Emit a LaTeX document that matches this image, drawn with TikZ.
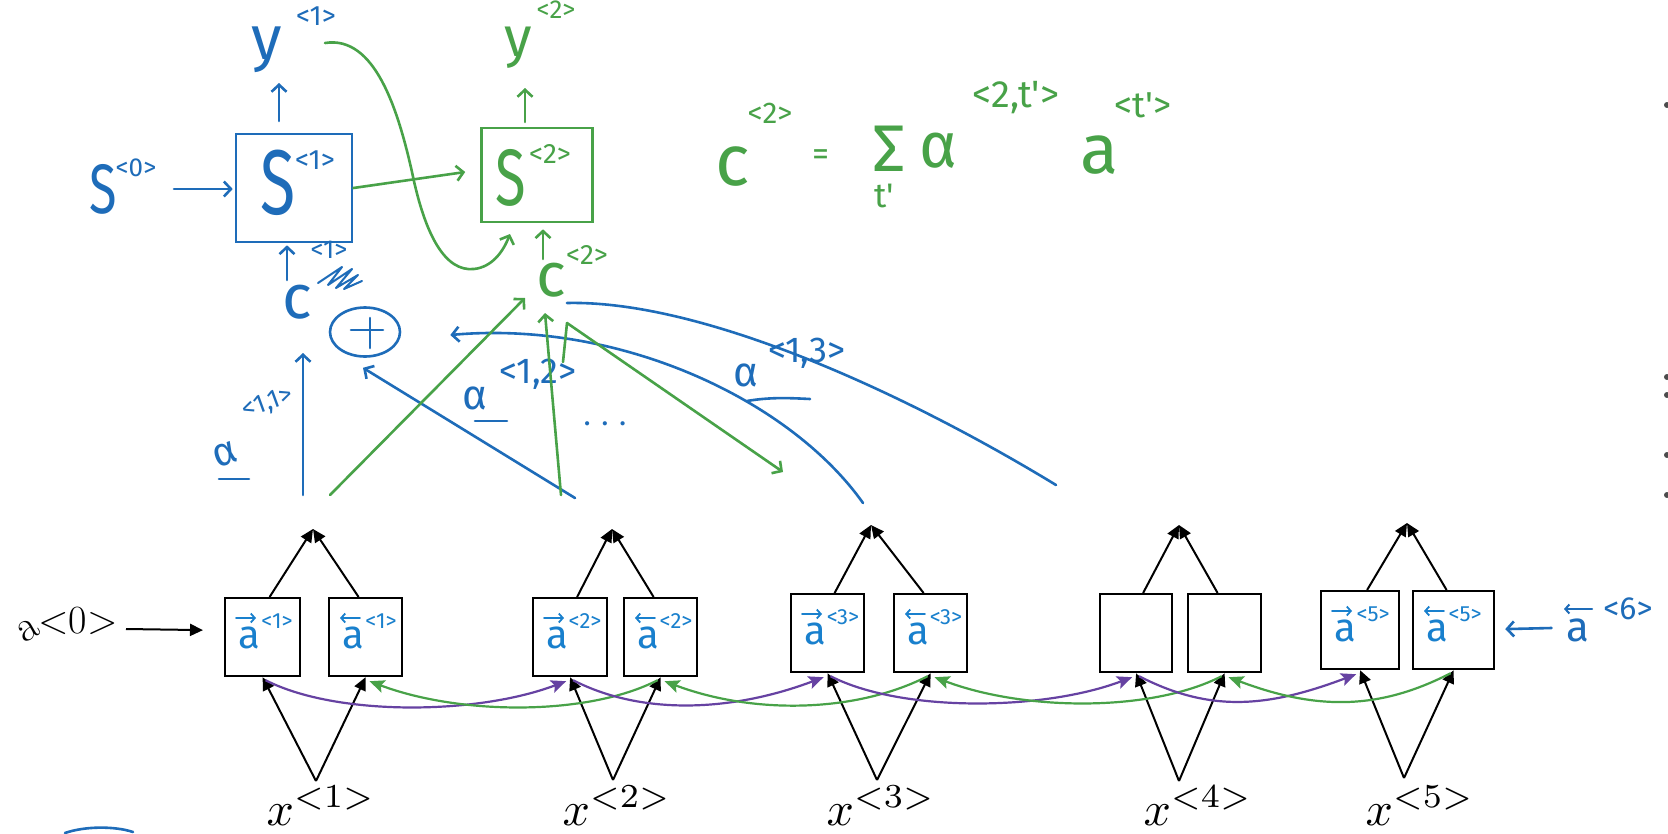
\documentclass[tikz,border=0pt]{standalone}
\usepackage{fontspec}
\newfontfamily\hand{Fira Sans}
\usetikzlibrary{arrows.meta,shapes.geometric,calc}
\definecolor{inkblue}{RGB}{30,108,185}
\definecolor{boxblue}{RGB}{25,128,205}
\definecolor{inkgreen}{RGB}{72,162,72}
\definecolor{inkpurple}{RGB}{102,66,162}
\newcommand\hf[1]{\hand\fontsize{#1}{#1}\selectfont}
\newcommand\lmf[1]{\fontsize{#1}{#1}\selectfont}
\begin{document}
\begin{tikzpicture}[x=1pt,y=-1pt,
  rnnbox/.style={draw, line width=2.2pt, minimum height=78pt, inner sep=0pt, anchor=north west},
  blk/.style={line width=2pt, -{Triangle[length=13pt,width=12pt]}},
  ink/.style={line width=2.6pt, line cap=round, line join=round},
  hwtip/.style={-{Straight Barb[length=7pt,width=15pt]}},
  blueink/.style={ink, draw=inkblue},
  greenink/.style={ink, draw=inkgreen},
  boxink/.style={line width=1.8pt, line cap=round, draw=boxblue},
  lab/.style={inner sep=0pt, outer sep=0pt},
  blab/.style={lab, text=inkblue},
  glab/.style={lab, text=inkgreen},
  ctxt/.style={lab, text=boxblue},
  purparc/.style={line width=2.2pt, draw=inkpurple, -{Stealth[length=15pt,width=13pt,inset=3pt]}},
  greenarc/.style={line width=2.2pt, draw=inkgreen, -{Stealth[length=15pt,width=13pt,inset=3pt]}},
]
\useasboundingbox[fill=white] (0,0) rectangle (1668,833);

% ---------------- bottom RNN row ----------------
\foreach \n/\x/\y/\w in {f1/224/597/75, b1/328/597/73, f2/532/597/74, b2/623/597/73,
  f3/790/593/73, b3/893/593/73, f4/1099/593/72, b4/1187/593/73, f5/1320/590/78, b5/1412/590/81}
  \node[rnnbox, minimum width=\w pt] (\n) at (\x,\y) {};

\foreach \i/\tx/\ty/\vx/\vy in {1/313/529/316/781, 2/612/529/613/780, 3/871/525/877/780,
  4/1179/525/1179/781, 5/1407/523/1404/778}{
  \coordinate (t\i) at (\tx,\ty);
  \coordinate (v\i) at (\vx,\vy);
  \draw[blk] ($(f\i.north)+(7,0)$) -- (t\i);
  \draw[blk] ($(b\i.north)+(-7,0)$) -- (t\i);
  \draw[blk] (v\i) -- (f\i.south);
  \draw[blk] (v\i) -- (b\i.south);
}

\foreach \i/\lx in {1/321, 2/617, 3/881, 4/1198, 5/1420}
  \node[lab, scale=4.8, anchor=base] (x\i) at (\lx,825) {$x^{<\i>}$};

% box contents
\foreach \n/\d/\s in {f1/1/1, b1/-1/1, f2/1/2, b2/-1/2, f3/1/3, b3/-1/3, f5/1/5, b5/-1/5}{
  \draw[boxink, -{Straight Barb[length=4pt,width=9pt]}]
    ($(\n.north west)+({22-10*\d},21)$) -- ($(\n.north west)+({22+10*\d},21)$);
  \node[ctxt, font=\hf{40}] (\n-a) at ($(\n.north west)+(25,41)$) {a};
  \node[ctxt, font=\hf{22}] (\n-s) at ($(\n.north west)+(53,24)$) {<\s>};
}

% recurrent arcs
\foreach \i/\j in {1/2, 2/3, 3/4, 4/5}{
  \draw[purparc] ($(f\i.south)+(3,3)$) .. controls +(70,36) and +(-90,34) .. ($(f\j.south)+(-4,4)$);
  \draw[greenarc] ($(b\j.south)+(-3,3)$) .. controls +(-70,36) and +(90,34) .. ($(b\i.south)+(4,4)$);
}

% a<0> on the left
\node[lab, font=\lmf{44}, rotate=30] (a0b) at (28,630) {a};
\node[lab, font=\lmf{40}] (a0s) at (78,621) {<0>};
\draw[blk] (126,629) -- ($(f1.west)+(-21,-7)$);

% a<6> on the right
\node[blab, font=\hf{42}] (a6a) at (1578,630) {a};
\draw[ink, draw=inkblue, line width=2pt, -{Straight Barb[length=4pt,width=9pt]}] (1592,609) -- (1564,609);
\node[blab, font=\hf{32}] (a6s) at (1628,609) {<6>};
\draw[blueink, hwtip] ($(a6a.west)+(-15,-2)$) -- ($(b5.east)+(10,-1)$);

% ---------------- decoder (top) ----------------
\node[draw=inkblue, line width=2.6pt, minimum width=116pt, minimum height=108pt, inner sep=0] (s1) at (294,188) {};
\node[blab, font=\hf{92}, xscale=0.7] (s1t) at (278,183) {S};
\node[blab, font=\hf{28}] (s1s) at (315,160) {<1>};

\node[blab, font=\hf{70}, xscale=0.72] (s0t) at (103,189) {S};
\node[blab, font=\hf{26}] (s0s) at (136,168) {<0>};
\draw[blueink, hwtip] (174,189) -- ($(s1.west)+(-2,1)$);

\coordinate (s1up) at (279,121);
\node[blab, font=\hf{62}] (y1t) at (267,50) {y};
\node[blab, font=\hf{28}] (y1s) at (316,16) {<1>};
\draw[blueink, hwtip] (s1up) -- (279,83);

\node[draw=inkgreen, line width=2.6pt, minimum width=111pt, minimum height=94pt, inner sep=0] (s2) at (537,175) {};
\node[glab, font=\hf{80}, xscale=0.7] (s2t) at (511,178) {S};
\node[glab, font=\hf{28}] (s2s) at (550,154) {<2>};
\draw[greenink, hwtip] (s1.east) -- ($(s2.west)+(-15,-3)$);

\coordinate (s2up) at (525,122);
\node[glab, font=\hf{56}] (y2t) at (518,48) {y};
\node[glab, font=\hf{26}] (y2s) at (556,10) {<2>};
\draw[greenink, hwtip] (s2up) -- (525,88);

% y<1> feeds s<2>
\coordinate (y1out) at (325,43);
\coordinate (s2in) at (510,234);
\draw[greenink, hwtip] (y1out) .. controls (375,35) and (398,110) .. (412,172)
  .. controls (425,235) and (445,272) .. (474,269) .. controls (492,267) and (503,252) .. (s2in);

% context c<1>
\node[blab, font=\hf{62}] (c1) at (297,302) {c};
\node[blab, font=\hf{26}] (c1s) at (329,250) {<1>};
\draw[blueink, line width=2pt] (318,283) -- (342,267) -- (328,285) -- (352,269) -- (336,288) -- (358,275) -- (344,289) -- (362,281);
\draw[blueink, hwtip] (287,280) -- ($(s1.south)+(-7,2)$);

\node[draw=inkblue, line width=2.6pt, ellipse, minimum width=70pt, minimum height=49pt, inner sep=0] (plus) at (365,332) {};
\draw[blueink] ($(plus.center)+(5,-14)$) -- ($(plus.center)+(5,16)$);
\draw[blueink] ($(plus.center)+(-14,-2)$) -- ($(plus.center)+(18,-2)$);

% context c<2>
\node[glab, font=\hf{62}] (c2) at (551,280) {c};
\node[glab, font=\hf{28}] (c2s) at (587,255) {<2>};
\draw[greenink, hwtip] (543,259) -- ($(s2.south)+(6,6)$);

% attention weights (blue)
\coordinate (p1top) at (303,495);
\draw[blueink, hwtip] (p1top) -- (303,353);
\node[blab, font=\hf{40}, rotate=20] (al11) at (225,455) {α};
\node[blab, font=\hf{26}, rotate=20] (al11s) at (268,404) {<1,1>};
\draw[blueink] (219,479) -- (249,479);

\coordinate (p2top) at (575,498);
\draw[blueink, hwtip] (p2top) -- ($(plus.south)+(-2,10)$);
\node[blab, font=\hf{42}] (al12) at (475,398) {α};
\node[blab, font=\hf{36}] (al12s) at (538,374) {<1,2>};
\draw[blueink] (475,421) -- (507,421);
\node[blab, font=\hf{30}] (dots) at (605,424) {. . .};

\coordinate (p3top) at (863,503);
\draw[blueink, hwtip] (p3top) .. controls (790,400) and (620,320) .. ($(plus.east)+(49,3)$);

\coordinate (p4top) at (1056,485);
\draw[blueink] (567,303) .. controls (700,300) and (900,390) .. (p4top);
\node[blab, font=\hf{42}] (al13) at (746,375) {α};
\node[blab, font=\hf{36}] (al13s) at (807,353) {<1,3>};
\draw[blueink] (747,401) .. controls (770,397) and (790,398) .. (810,399);

% attention weights (green)
\coordinate (g1) at (330,495);
\draw[greenink, hwtip] (g1) -- (525,298);
\coordinate (g2) at (561,495);
\draw[greenink, hwtip] (g2) -- (545,313);
\coordinate (g3) at (783,472);
\coordinate (c2fork) at (567,323);
\draw[greenink, hwtip] (c2fork) -- (g3);
\draw[greenink] (c2fork) -- (563,362);

% ---------------- formula ----------------
\node[glab, font=\hf{72}] (fc) at (733,167) {c};
\node[glab, font=\hf{30}] (fcs) at (770,113) {<2>};
\node[glab, font=\hf{34}] (feq) at (821,158) {=};
\node[glab, font=\hf{66}] (fsum) at (889,149) {Σ};
\node[glab, font=\hf{34}] (ft) at (884,196) {t'};
\node[glab, font=\hf{64}] (fal) at (938,151) {α};
\node[glab, font=\hf{38}] (fals) at (1016,98) {<2,t'>};
\node[glab, font=\hf{70}] (fa) at (1100,155) {a};
\node[glab, font=\hf{36}] (fas) at (1143,105) {<t'>};

% fragments at the edges
\draw[blueink] (65,833) .. controls (85,826) and (115,826) .. (133,832);
\foreach \yy in {105,377,395,455,495}
  \fill[black!70] (1667,\yy) circle (3pt);
\end{tikzpicture}
\end{document}
